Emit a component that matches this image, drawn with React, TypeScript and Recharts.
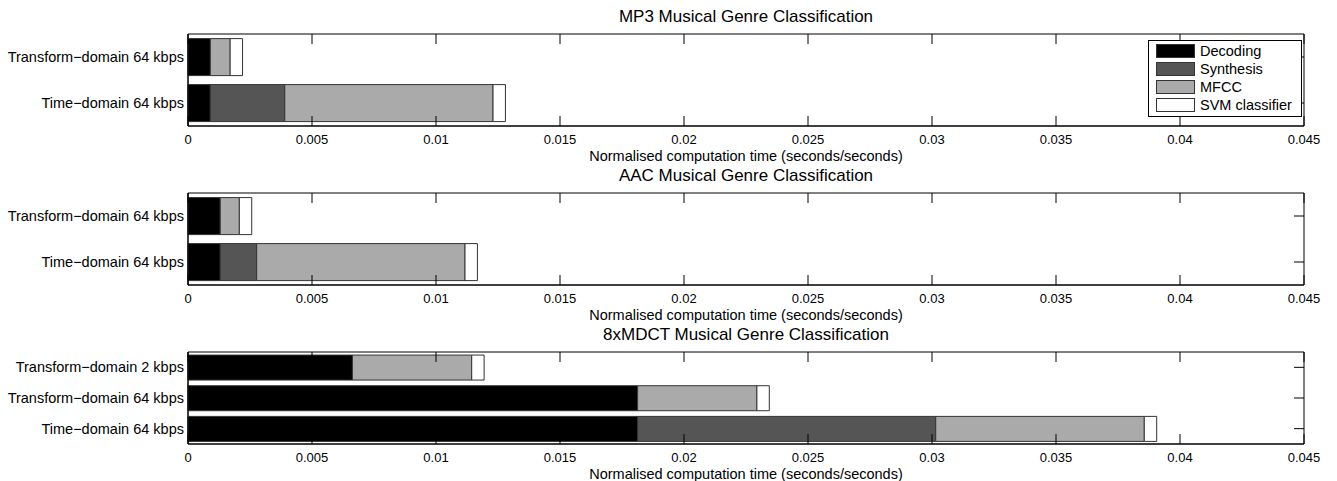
import React from "react";
import { BarChart, Bar, XAxis, YAxis, ReferenceArea } from "recharts";

// ---- data ----
const seriesNames = ["Decoding", "Synthesis", "MFCC", "SVM classifier"];
const seriesKeys = ["dec", "syn", "mfcc", "svm"];
const seriesColors = ["#000000", "#555555", "#aaaaaa", "#ffffff"];
const xTicks = [0, 0.005, 0.01, 0.015, 0.02, 0.025, 0.03, 0.035, 0.04, 0.045];

const mp3Categories = ["Transform\u2212domain 64 kbps", "Time\u2212domain 64 kbps"];
const mp3Decoding = [0.0009, 0.0009];
const mp3Synthesis = [0, 0.003];
const mp3Mfcc = [0.0008, 0.0084];
const mp3Svm = [0.0005, 0.0005];

const aacCategories = ["Transform\u2212domain 64 kbps", "Time\u2212domain 64 kbps"];
const aacDecoding = [0.0013, 0.0013];
const aacSynthesis = [0, 0.00147];
const aacMfcc = [0.00077, 0.0084];
const aacSvm = [0.0005, 0.0005];

const mdctCategories = [
  "Transform\u2212domain 2 kbps",
  "Transform\u2212domain 64 kbps",
  "Time\u2212domain 64 kbps",
];
const mdctDecoding = [0.00663, 0.01813, 0.01813];
const mdctSynthesis = [0, 0, 0.01202];
const mdctMfcc = [0.00481, 0.00481, 0.00841];
const mdctSvm = [0.0005, 0.0005, 0.0005];

const panelTitles = [
  "MP3 Musical Genre Classification",
  "AAC Musical Genre Classification",
  "8xMDCT Musical Genre Classification",
];
const xLabel = "Normalised computation time (seconds/seconds)";

const build = (cats: string[], d: number[], s: number[], m: number[], v: number[]) =>
  cats.map((name, i) => ({ name, dec: d[i], syn: s[i], mfcc: m[i], svm: v[i] }));

const panels = [
  build(mp3Categories, mp3Decoding, mp3Synthesis, mp3Mfcc, mp3Svm),
  build(aacCategories, aacDecoding, aacSynthesis, aacMfcc, aacSvm),
  build(mdctCategories, mdctDecoding, mdctSynthesis, mdctMfcc, mdctSvm),
];

// ---- layout ----
const FONT = "'Liberation Sans', Arial, Helvetica, sans-serif";
const W = 1337;
const CH = 159;
const PLOT_LEFT = 188;
const PLOT_RIGHT = 1304;
const PLOT_TOP = 34;
const PLOT_H = 92;
const panelOffsets = [0, 159, 318];
const TICK_LEN = 10;

const XTick = (props: any) => {
  const { x, y, payload } = props;
  return (
    <g>
      <text x={x} y={y + 13} dy="0.355em" textAnchor="middle" fontSize={13} fill="#000" fontFamily={FONT}>
        {String(payload.value)}
      </text>
      <line x1={x} x2={x} y1={y} y2={y - TICK_LEN} stroke="#000" />
      <line x1={x} x2={x} y1={y - PLOT_H} y2={y - PLOT_H + TICK_LEN} stroke="#000" />
    </g>
  );
};

const YTick = (props: any) => {
  const { x, y, payload } = props;
  return (
    <g>
      <text x={x} y={y} dy="0.355em" textAnchor="end" fontSize={14.5} fill="#000" fontFamily={FONT}>
        {payload.value}
      </text>
      <line x1={PLOT_RIGHT} x2={PLOT_RIGHT - TICK_LEN} y1={y} y2={y} stroke="#000" />
    </g>
  );
};

const Panel = ({ data, idx }: { data: any[]; idx: number }) => (
  <div style={{ position: "absolute", left: 0, top: panelOffsets[idx], width: W, height: CH }}>
    <BarChart
      width={W}
      height={CH}
      data={data}
      layout="vertical"
      margin={{ top: PLOT_TOP, right: W - PLOT_RIGHT, left: 8, bottom: CH - PLOT_TOP - PLOT_H - 20 }}
      barCategoryGap="10%"
    >
      <XAxis
        type="number"
        domain={[0, 0.045]}
        ticks={xTicks}
        interval={0}
        height={20}
        tickSize={0}
        tickMargin={0}
        tickLine={false}
        axisLine={{ stroke: "#000" }}
        tick={<XTick />}
      />
      <YAxis
        type="category"
        dataKey="name"
        width={PLOT_LEFT - 8}
        tickSize={0}
        tickMargin={4}
        tickLine={false}
        interval={0}
        axisLine={{ stroke: "#000" }}
        tick={<YTick />}
      />
      {seriesKeys.map((k, i) => (
        <Bar
          key={k}
          dataKey={k}
          name={seriesNames[i]}
          stackId="a"
          fill={seriesColors[i]}
          stroke="#333"
          strokeWidth={1}
          isAnimationActive={false}
        />
      ))}
      <ReferenceArea x1={0} x2={0.045} fill="none" stroke="#000" strokeWidth={1} fillOpacity={0} />
    </BarChart>
  </div>
);

export default function App() {
  return (
    <div
      style={{
        position: "absolute",
        left: 0,
        top: 0,
        width: W,
        height: 481,
        background: "#fff",
        fontFamily: FONT,
        color: "#000",
        overflow: "hidden",
      }}
    >
      {panels.map((d, i) => (
        <Panel key={i} data={d} idx={i} />
      ))}
      {panelTitles.map((t, i) => (
        <div
          key={"t" + i}
          style={{
            position: "absolute",
            left: PLOT_LEFT,
            width: PLOT_RIGHT - PLOT_LEFT,
            top: panelOffsets[i] + PLOT_TOP - 17 - 10,
            height: 20,
            lineHeight: "20px",
            textAlign: "center",
            fontSize: 17,
            whiteSpace: "nowrap",
          }}
        >
          {t}
        </div>
      ))}
      {panelTitles.map((_, i) => (
        <div
          key={"x" + i}
          style={{
            position: "absolute",
            left: PLOT_LEFT,
            width: PLOT_RIGHT - PLOT_LEFT,
            top: panelOffsets[i] + PLOT_TOP + PLOT_H + 30 - 9,
            height: 18,
            lineHeight: "18px",
            textAlign: "center",
            fontSize: 14.5,
            whiteSpace: "nowrap",
          }}
        >
          {xLabel}
        </div>
      ))}
      <div
        style={{
          position: "absolute",
          left: 1148,
          top: 40,
          width: 152,
          height: 74,
          border: "1px solid #000",
          background: "#fff",
          paddingTop: 1,
          boxSizing: "content-box",
        }}
      >
        {seriesNames.map((n, i) => (
          <div key={n} style={{ display: "flex", alignItems: "center", height: 18 }}>
            <div
              style={{
                marginLeft: 7,
                width: 37,
                height: 12,
                background: seriesColors[i],
                border: "1px solid #333",
              }}
            />
            <span style={{ marginLeft: 5, fontSize: 14.5, whiteSpace: "nowrap" }}>{n}</span>
          </div>
        ))}
      </div>
    </div>
  );
}
